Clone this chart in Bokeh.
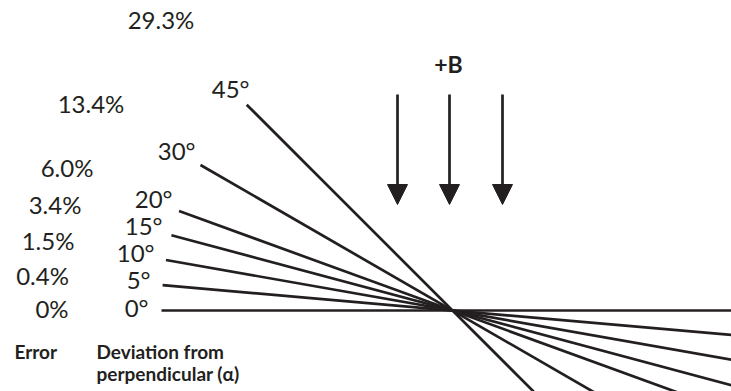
import math
from bokeh.plotting import figure
from bokeh.models import Range1d, Arrow, NormalHead, ColumnDataSource, Label
from bokeh.core.properties import value
from bokeh.embed import file_html
from bokeh.resources import INLINE

# ---- data ----
angles_deg = [0, 5, 10, 15, 20, 30, 45]
angle_labels = ["0°", "5°", "10°", "15°", "20°", "30°", "45°"]
error_labels = ["0%", "0.4%", "1.5%", "3.4%", "6.0%", "13.4%", "29.3%"]
field_label = "+B"
col_titles = ["Error", "Deviation from", "perpendicular (α)"]

# ---- layout (pixels, from top-left of the figure) ----
W, H = 731, 391
CX, CY = 452, 310          # pivot point
R_LEFT = 291               # length of each line left of pivot
R_RIGHT = 1200
angle_lab_right = [148, 150, 154, 162, 172, 195, 249]
angle_lab_base = [317, 289, 262, 235, 208, 160, 98]
err_lab_center = [51.5, 42, 47.5, 54.5, 66.5, 90.5, 160.5]
err_lab_base = [318, 285, 250, 214, 177, 113, 29]
arrow_x = [397, 449, 502]
arrow_top, arrow_tip = 94, 204
title_pos = [(14, 359), (96, 359), (96, 381)]
bplus_pos = (448, 73)
LABEL_PX, TITLE_PX, B_PX = 24, 19, 23
BASE_FIX = 0.42            # baseline correction as a fraction of font size

INK = "#231f20"
FONT = "Lato"


def dx(sx):
    return sx - CX


def dy(sy, size):
    return CY - sy + BASE_FIX * size


p = figure(width=W, height=H, output_backend="svg", toolbar_location=None,
           x_range=Range1d(-CX, W - CX),
           y_range=Range1d(CY - H, CY),
           min_border=0, outline_line_color=None)
p.axis.visible = False
p.grid.visible = False
p.background_fill_color = "white"
p.border_fill_color = "white"

rad = [math.radians(a) for a in angles_deg]
src = ColumnDataSource(dict(
    x0=[-R_LEFT * math.cos(r) for r in rad],
    y0=[R_LEFT * math.sin(r) for r in rad],
    x1=[R_RIGHT * math.cos(r) for r in rad],
    y1=[-R_RIGHT * math.sin(r) for r in rad],
))
p.segment("x0", "y0", "x1", "y1", source=src, line_color=INK, line_width=2.7)

# angle labels
asrc = ColumnDataSource(dict(x=[dx(v) for v in angle_lab_right],
                             y=[dy(v, LABEL_PX) for v in angle_lab_base],
                             t=angle_labels))
p.text("x", "y", text="t", source=asrc, text_align="right",
       text_baseline="alphabetic", text_font=value(FONT),
       text_font_size=f"{LABEL_PX}px", text_color=INK)

# error labels
esrc = ColumnDataSource(dict(x=[dx(v) for v in err_lab_center],
                             y=[dy(v, LABEL_PX) for v in err_lab_base],
                             t=error_labels))
p.text("x", "y", text="t", source=esrc, text_align="center",
       text_baseline="alphabetic", text_font=value(FONT),
       text_font_size=f"{LABEL_PX}px", text_color=INK)

# column titles
for txt, (sx, sy) in zip(col_titles, title_pos):
    p.add_layout(Label(x=dx(sx), y=dy(sy, TITLE_PX), text=txt,
                       text_align="left", text_baseline="alphabetic",
                       text_font=FONT, text_font_style="bold",
                       text_font_size=f"{TITLE_PX}px", text_color=INK))

# +B label and field arrows
p.add_layout(Label(x=dx(bplus_pos[0]), y=dy(bplus_pos[1], B_PX),
                   text=field_label, text_align="center",
                   text_baseline="alphabetic", text_font=FONT,
                   text_font_style="bold", text_font_size=f"{B_PX}px",
                   text_color=INK))
for ax in arrow_x:
    p.add_layout(Arrow(x_start=dx(ax), y_start=CY - arrow_top,
                       x_end=dx(ax), y_end=CY - arrow_tip,
                       line_color=INK, line_width=2.7,
                       end=NormalHead(size=20, fill_color=INK, line_color=INK,
                                      line_width=1)))

open("out.html", "w").write(file_html(p, INLINE))
